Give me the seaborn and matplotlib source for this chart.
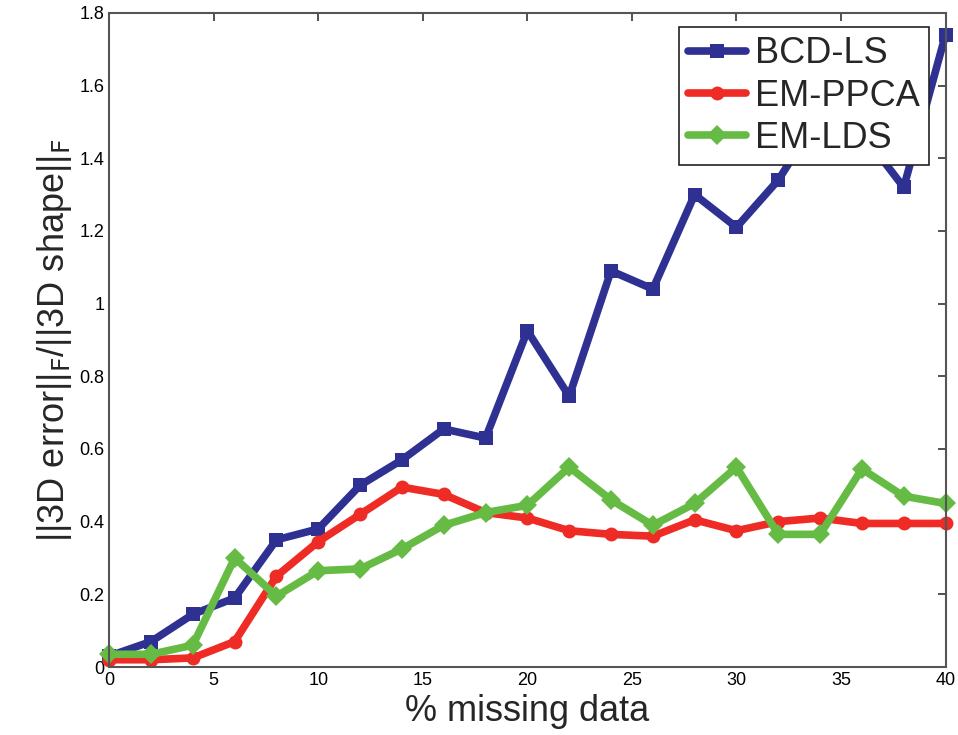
import pandas as pd
import matplotlib.pyplot as plt
import seaborn as sns

# values
missing = [0, 2, 4, 6, 8, 10, 12, 14, 16, 18, 20, 22, 24, 26, 28, 30, 32, 34, 36, 38, 40]
bcd_ls = [0.03, 0.07, 0.145, 0.19, 0.35, 0.38, 0.50, 0.57, 0.655, 0.63, 0.925, 0.745,
          1.09, 1.04, 1.30, 1.21, 1.34, 1.52, 1.47, 1.32, 1.74]
em_ppca = [0.02, 0.02, 0.025, 0.07, 0.25, 0.345, 0.42, 0.495, 0.475, 0.425, 0.41, 0.375,
           0.365, 0.36, 0.405, 0.375, 0.40, 0.41, 0.395, 0.395, 0.395]
em_lds = [0.035, 0.035, 0.06, 0.30, 0.195, 0.265, 0.27, 0.325, 0.39, 0.425, 0.445, 0.55,
          0.46, 0.39, 0.45, 0.55, 0.365, 0.365, 0.545, 0.47, 0.45]
methods = ['BCD-LS', 'EM-PPCA', 'EM-LDS']

df = pd.DataFrame({
    'missing': missing * 3,
    'error': bcd_ls + em_ppca + em_lds,
    'method': [m for m in methods for _ in missing],
})

sns.set_style("white")
plt.rcParams['font.family'] = ['Liberation Sans Narrow', 'Liberation Sans', 'DejaVu Sans']

fig = plt.figure(figsize=(9.58, 7.35), dpi=100)
ax = fig.add_axes([0.114, 0.0925, 0.873, 0.89])

colors = {'BCD-LS': '#2E3192', 'EM-PPCA': '#EE2B24', 'EM-LDS': '#66BB44'}
markers = {'BCD-LS': 's', 'EM-PPCA': 'o', 'EM-LDS': 'D'}

sns.lineplot(data=df, x='missing', y='error', hue='method', style='method',
             palette=colors, markers=markers, dashes=False, linewidth=5.5,
             markersize=10, markeredgewidth=0, ax=ax, clip_on=False)

ax.set_xlim(0, 40)
ax.set_ylim(0, 1.8)
ax.set_xticks(range(0, 41, 5))
ax.set_yticks([0, 0.2, 0.4, 0.6, 0.8, 1.0, 1.2, 1.4, 1.6, 1.8])
ax.set_yticklabels(['0', '0.2', '0.4', '0.6', '0.8', '1', '1.2', '1.4', '1.6', '1.8'])
ax.tick_params(direction='in', length=6, width=1.2, labelsize=13, colors='#333333',
               top=True, right=True, labelcolor='black')
for s in ax.spines.values():
    s.set_color('#555555')
    s.set_linewidth(1.5)

ax.set_xlabel('% missing data', fontsize=26, family=['Liberation Sans'], labelpad=4)
ax.set_ylabel(r'||3D error||$_\mathrm{F}$/||3D shape||$_\mathrm{F}$', fontsize=26,
              family=['Liberation Sans'], labelpad=4)

leg = ax.legend(loc='upper right', bbox_to_anchor=(0.980, 0.978),
                frameon=True, fancybox=False, handlelength=1.6, handletextpad=0.25,
                borderpad=0.25, labelspacing=0.2, borderaxespad=0,
                prop={'family': 'Liberation Sans', 'size': 26})
leg.get_frame().set_edgecolor('#222222')
leg.get_frame().set_linewidth(1.2)
leg.get_frame().set_alpha(1)

plt.savefig('out.png', dpi=100)
